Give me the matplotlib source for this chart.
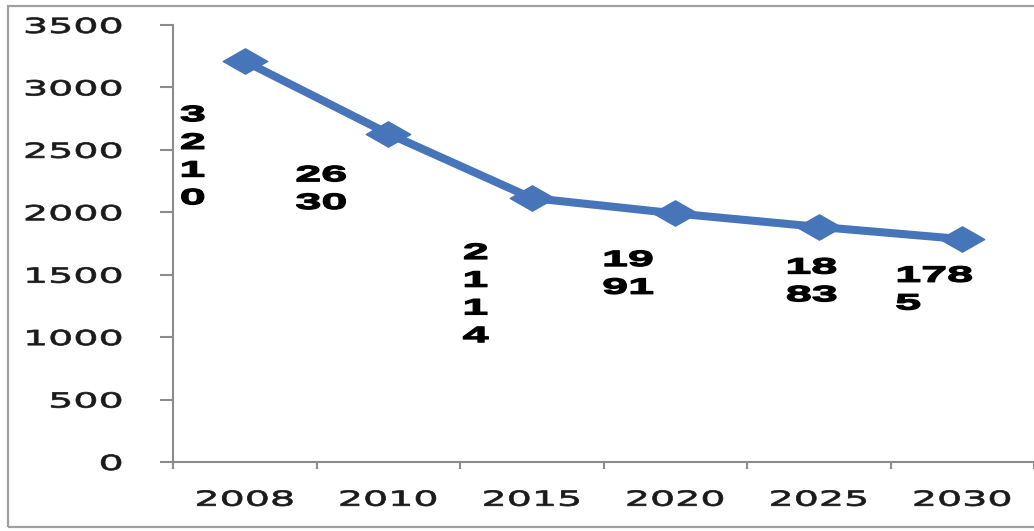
import matplotlib
matplotlib.use('Agg')
import matplotlib.pyplot as plt
from matplotlib import patheffects
from matplotlib.transforms import Affine2D
from matplotlib.path import Path
from matplotlib.patches import Rectangle

# ---- data ----
years = ['2008', '2010', '2015', '2020', '2025', '2030']
values = [3210, 2630, 2114, 1991, 1883, 1785]
point_labels = ['3\n2\n1\n0', '26\n30', '2\n1\n1\n4', '19\n91', '18\n83', '178\n5']
y_ticks = [0, 500, 1000, 1500, 2000, 2500, 3000, 3500]

# label offsets (pixels) and alignment - layout only
label_offsets = [(-52, -96), (-67, -56), (-56, -97), (-47, -61), (-7, -55), (-67, -51)]
label_align = ['center', 'center', 'center', 'center', 'center', 'left']


class HStretch(patheffects.AbstractPathEffect):
    """Stretch glyphs horizontally (the reference text looks widened),
    optionally thickening them with a thin stroke."""
    def __init__(self, sx, anchor='center', stroke=0.0):
        super().__init__()
        self.sx = sx
        self.anchor = anchor
        self.stroke = stroke

    def draw_path(self, renderer, gc, tpath, affine, rgbFace=None):
        ext = tpath.get_extents()
        if self.anchor == 'left':
            a = 0.0
        elif self.anchor == 'right':
            a = ext.x1
        else:
            a = 0.5 * (ext.x0 + ext.x1)
        t = Affine2D().translate(-a, 0).scale(self.sx, 1.0).translate(a, 0) + affine
        gc0 = renderer.new_gc()
        gc0.copy_properties(gc)
        if self.stroke > 0 and rgbFace is not None:
            gc0.set_linewidth(self.stroke)
            gc0.set_foreground(rgbFace)
            gc0.set_joinstyle('round')
        renderer.draw_path(gc0, tpath, t, rgbFace)
        gc0.restore()


W, H = 1034, 531
fig = plt.figure(figsize=(W / 100, H / 100), dpi=100)
fig.patch.set_facecolor('white')

ax = fig.add_axes([173 / W, 69 / H, 861 / W, 437 / H])
ax.set_facecolor('white')

blue = '#4775B9'
diamond = Path([(-1, 0), (0, 0.57), (1, 0), (0, -0.57), (-1, 0)],
               [Path.MOVETO, Path.LINETO, Path.LINETO, Path.LINETO, Path.CLOSEPOLY])
xs = list(range(len(years)))
ax.plot(xs, values, color=blue, lw=5.8, marker=diamond, ms=32,
        mfc=blue, mec=blue, solid_joinstyle='round', zorder=3, clip_on=False)

ax.set_xlim(-0.5, len(years) - 0.5)
ax.set_ylim(0, 3500)

for s in ['top', 'right']:
    ax.spines[s].set_visible(False)
for s in ['left', 'bottom']:
    ax.spines[s].set_color('#8C8C8C')
    ax.spines[s].set_linewidth(1.5)

ax.set_yticks(y_ticks)
ax.set_yticklabels([str(v) for v in y_ticks])
ax.set_xticks(xs)
ax.set_xticklabels(years)
ax.set_xticks([i - 0.5 for i in range(len(years) + 1)], minor=True)

ax.tick_params(axis='y', which='major', length=9.4, width=1.5, color='#8C8C8C',
               pad=27, labelsize=15, labelcolor='#1a1a1a')
ax.tick_params(axis='x', which='major', length=0, pad=20, labelsize=15,
               labelcolor='#1a1a1a')
ax.tick_params(axis='x', which='minor', length=5, width=1.5, color='#8C8C8C')

for lab in ax.get_yticklabels():
    lab.set_fontfamily('DejaVu Sans')
    lab.set_path_effects([HStretch(1.9, 'right', stroke=0.5)])
for lab in ax.get_xticklabels():
    lab.set_fontfamily('DejaVu Sans')
    lab.set_path_effects([HStretch(1.9, 'center', stroke=0.5)])

for i, (v, txt) in enumerate(zip(values, point_labels)):
    dx, dy = label_offsets[i]
    ha = label_align[i]
    ax.annotate(txt, (xs[i], v), xytext=(dx, dy), textcoords='offset pixels',
                ha=ha, va='center', multialignment=ha,
                fontsize=16, fontweight='bold', family='Liberation Sans',
                color='black', linespacing=1.42, zorder=4,
                path_effects=[HStretch(2.1, 'left' if ha == 'left' else 'center',
                                       stroke=0.9)])

# outer chart border
fig.patches.append(Rectangle((8 / W, 4 / H), 1.2, (527 - 6) / H, transform=fig.transFigure,
                             fill=False, ec='#A0A0A0', lw=1.6, clip_on=False, zorder=0))

fig.savefig('out.png', dpi=100, facecolor='white')
